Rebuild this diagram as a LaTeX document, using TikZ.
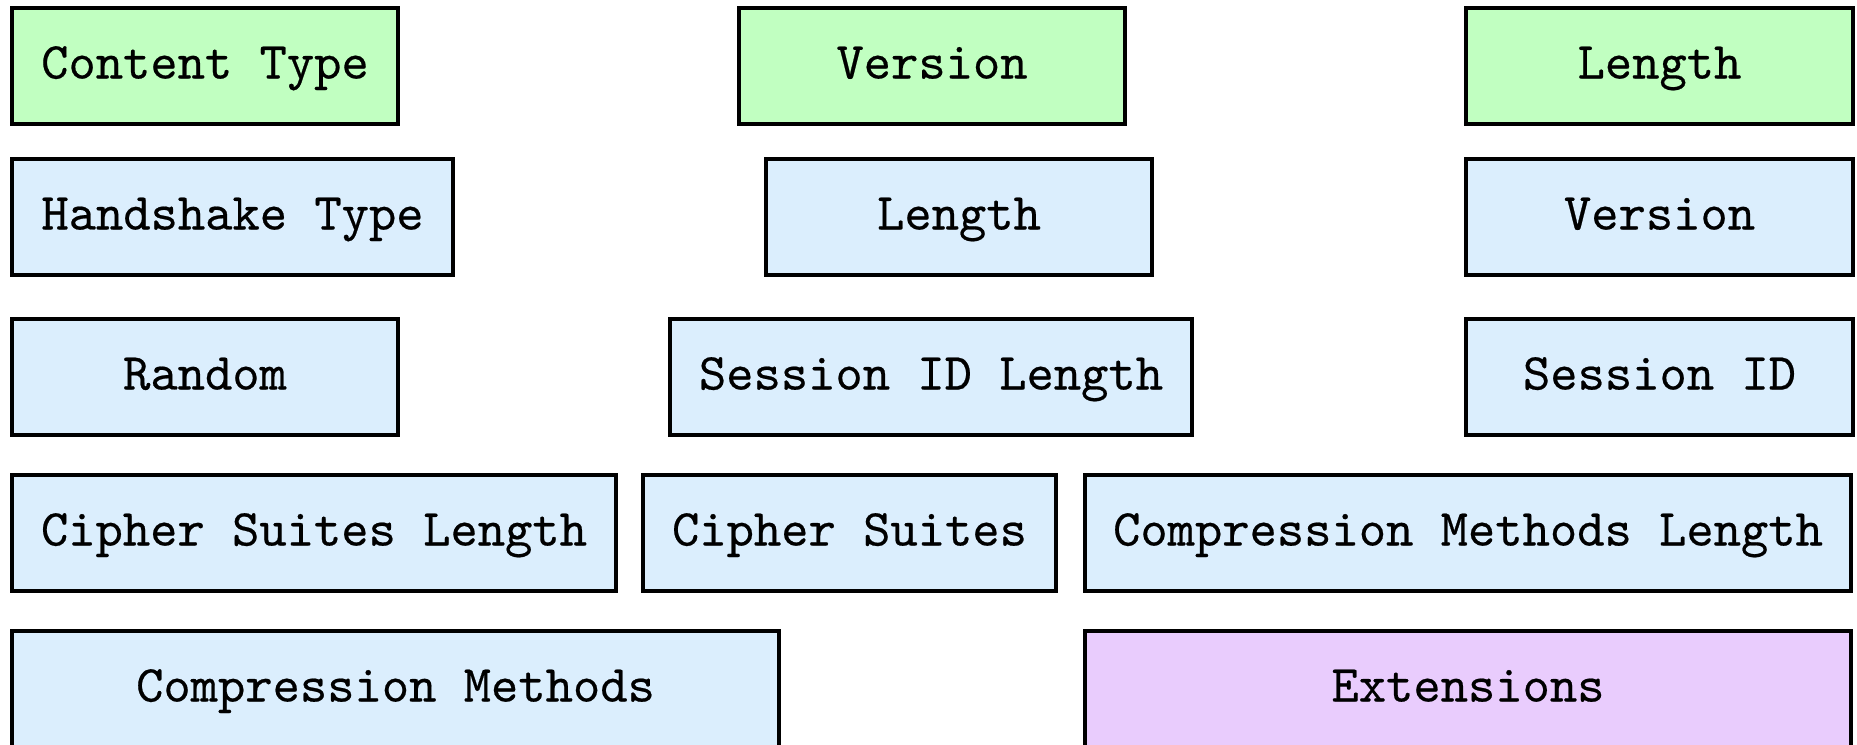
\documentclass[tikz,border=0pt]{standalone}
\usepackage{fontspec}
\newfontfamily\fieldfont{lmmono10-regular.otf}[BoldFont=lmmono10-regular.otf, BoldFeatures={FakeBold=0.4}]
\begin{document}
\begin{tikzpicture}[x=0.5pt,y=-0.5pt,
  field/.style={draw=black, line width=2.2pt, inner sep=0pt, minimum height=58pt,
    text height=17pt, text depth=4.5pt,
    font=\fontsize{26pt}{30pt}\selectfont\fieldfont\bfseries, text=black},
  rec/.style={field, fill=recgreen},
  hs/.style={field, fill=hsblue},
  ext/.style={field, fill=extpurple}]
\definecolor{recgreen}{RGB}{193,255,193}
\definecolor{hsblue}{RGB}{219,238,253}
\definecolor{extpurple}{RGB}{233,204,253}
\fill[white] (0,0) rectangle (1857,744);
\useasboundingbox (0,0) rectangle (1857,744);
% row 1 (record header)
\node[rec, minimum width=193pt] (ctype) at (205,66) {Content Type};
\node[rec, minimum width=193pt] (rver) at (932,66) {Version};
\node[rec, minimum width=193.5pt] (rlen) at (1659.5,66) {Length};
% row 2
\node[hs, minimum width=220.5pt] (htype) at (232.5,217) {Handshake Type};
\node[hs, minimum width=193pt] (hlen) at (959,217) {Length};
\node[hs, minimum width=193.5pt] (hver) at (1659.5,217) {Version};
% row 3
\node[hs, minimum width=193pt] (rand) at (205,377) {Random};
\node[hs, minimum width=261pt] (sidlen) at (931,377) {Session ID Length};
\node[hs, minimum width=193.5pt] (sid) at (1659.5,377) {Session ID};
% row 4
\node[hs, minimum width=302pt] (cslen) at (314,533) {Cipher Suites Length};
\node[hs, minimum width=206.5pt] (cs) at (849.5,533) {Cipher Suites};
\node[hs, minimum width=383pt] (cmlen) at (1468,533) {Compression Methods Length};
% row 5
\node[hs, minimum width=383.5pt] (cm) at (395.5,689) {Compression Methods};
\node[ext, minimum width=383pt] (exts) at (1468,689) {Extensions};
\end{tikzpicture}
\end{document}
